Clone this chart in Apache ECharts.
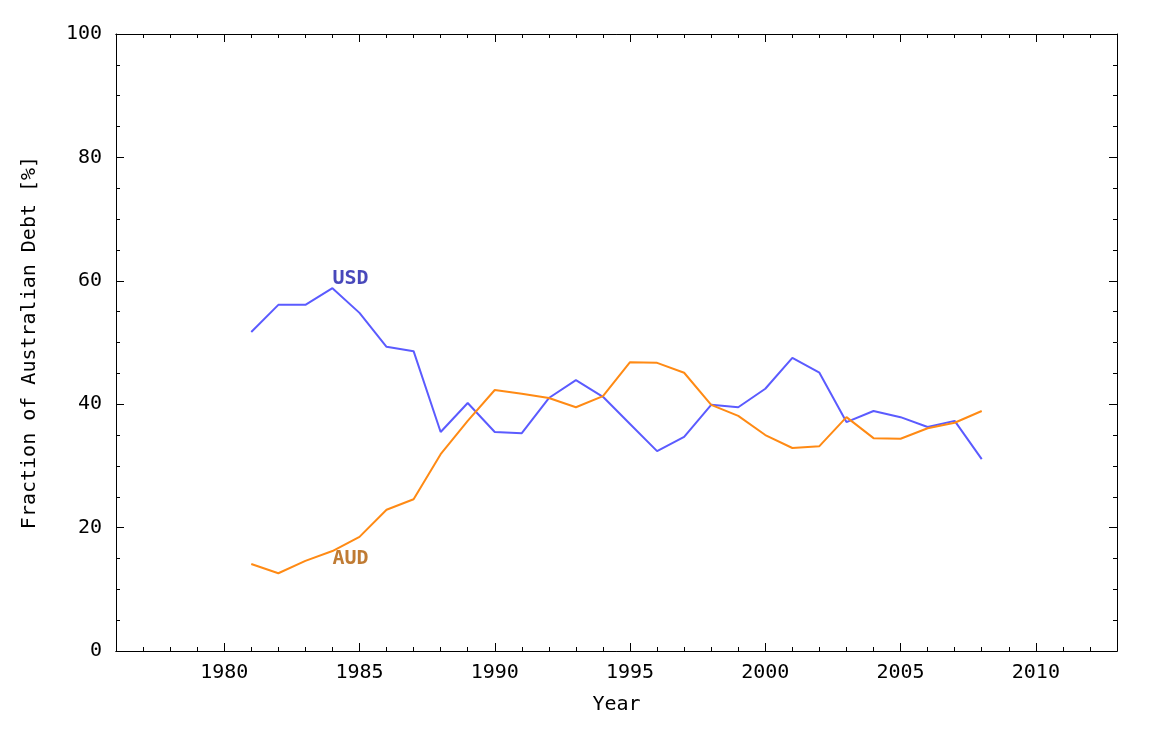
<!DOCTYPE html>
<html><head><meta charset="utf-8">
<script src="https://cdn.jsdelivr.net/npm/echarts@6/dist/echarts.min.js"></script>
<style>html,body{margin:0;padding:0;background:#fff}#c{width:1152px;height:742px}</style>
</head><body><div id="c"></div>
<script>
const years = [1981,1982,1983,1984,1985,1986,1987,1988,1989,1990,1991,1992,1993,1994,1995,1996,1997,1998,1999,2000,2001,2002,2003,2004,2005,2006,2007,2008];
const usd = [51.7,56.1,56.1,58.8,54.8,49.3,48.6,35.5,40.2,35.5,35.3,41.0,43.9,41.2,36.8,32.4,34.7,39.9,39.5,42.5,47.5,45.1,37.1,38.9,37.9,36.3,37.3,31.1];
const aud = [14.1,12.6,14.6,16.2,18.5,22.9,24.6,31.9,37.3,42.3,41.7,41.0,39.5,41.3,46.8,46.7,45.1,39.9,38.1,35.0,32.9,33.2,37.9,34.5,34.4,36.1,37.0,38.9];
const xTicks = [1980,1985,1990,1995,2000,2005,2010];
const labels = [{name:'USD', x:1984, y:60.3, color:'#1a1aaa'},{name:'AUD', x:1984, y:14.9, color:'#b05a00'}];
const font = 'DejaVu Sans Mono';
const line = {lineStyle:{color:'#000',width:1}};
function xa(pos, major){
  return {type:'value', position:pos, min:1976, max:2013,
    interval: major?undefined:1,
    axisLine:{show:true,...line, onZero:false},
    axisTick: major?{show:true,inside:true,length:8,customValues:xTicks,lineStyle:{color:'#000'}}:{show:true,inside:true,length:4,lineStyle:{color:'#000'}},
    axisLabel: (major&&pos==='bottom')?{show:true,customValues:xTicks,formatter:v=>String(v),fontFamily:font,fontSize:20,color:'#000',margin:12}:{show:false},
    splitLine:{show:false},
    name: (major&&pos==='bottom')?'Year':'', nameLocation:'middle', nameGap:44,
    nameTextStyle:{fontFamily:font,fontSize:20,color:'#000'}};
}
function ya(pos){
  return {type:'value', position:pos, min:0, max:100, interval:20,
    axisLine:{show:true,...line, onZero:false},
    axisTick:{show:true,inside:true,length:8,lineStyle:{color:'#000'}},
    minorTick:{show:true,splitNumber:4,length:4,lineStyle:{color:'#000'}},
    axisLabel: pos==='left'?{fontFamily:font,fontSize:20,color:'#000',margin:14}:{show:false},
    splitLine:{show:false},
    name: pos==='left'?'Fraction of Australian Debt [%]':'', nameLocation:'middle', nameGap:76,
    nameTextStyle:{fontFamily:font,fontSize:20,color:'#000'}};
}
const chart = echarts.init(document.getElementById('c'));
chart.setOption({
  animation:false,
  grid:{left:116,right:35,top:34,bottom:91},
  xAxis:[xa('bottom',true),xa('bottom',false),xa('top',true),xa('top',false)],
  yAxis:[ya('left'),ya('right')],
  series:[
    {type:'line',data:years.map((y,i)=>[y,usd[i]]),showSymbol:false,lineStyle:{color:'#5b5bff',width:2},itemStyle:{color:'#5b5bff'}},
    {type:'line',data:years.map((y,i)=>[y,aud[i]]),showSymbol:false,lineStyle:{color:'#ff8a14',width:2},itemStyle:{color:'#ff8a14'}},
    {type:'scatter',symbolSize:0,data:labels.map(l=>({value:[l.x,l.y],label:{show:true,position:'right',distance:0,formatter:l.name,color:l.color,fontWeight:'bold',fontFamily:font,fontSize:20}}))}
  ]
});
</script></body></html>
